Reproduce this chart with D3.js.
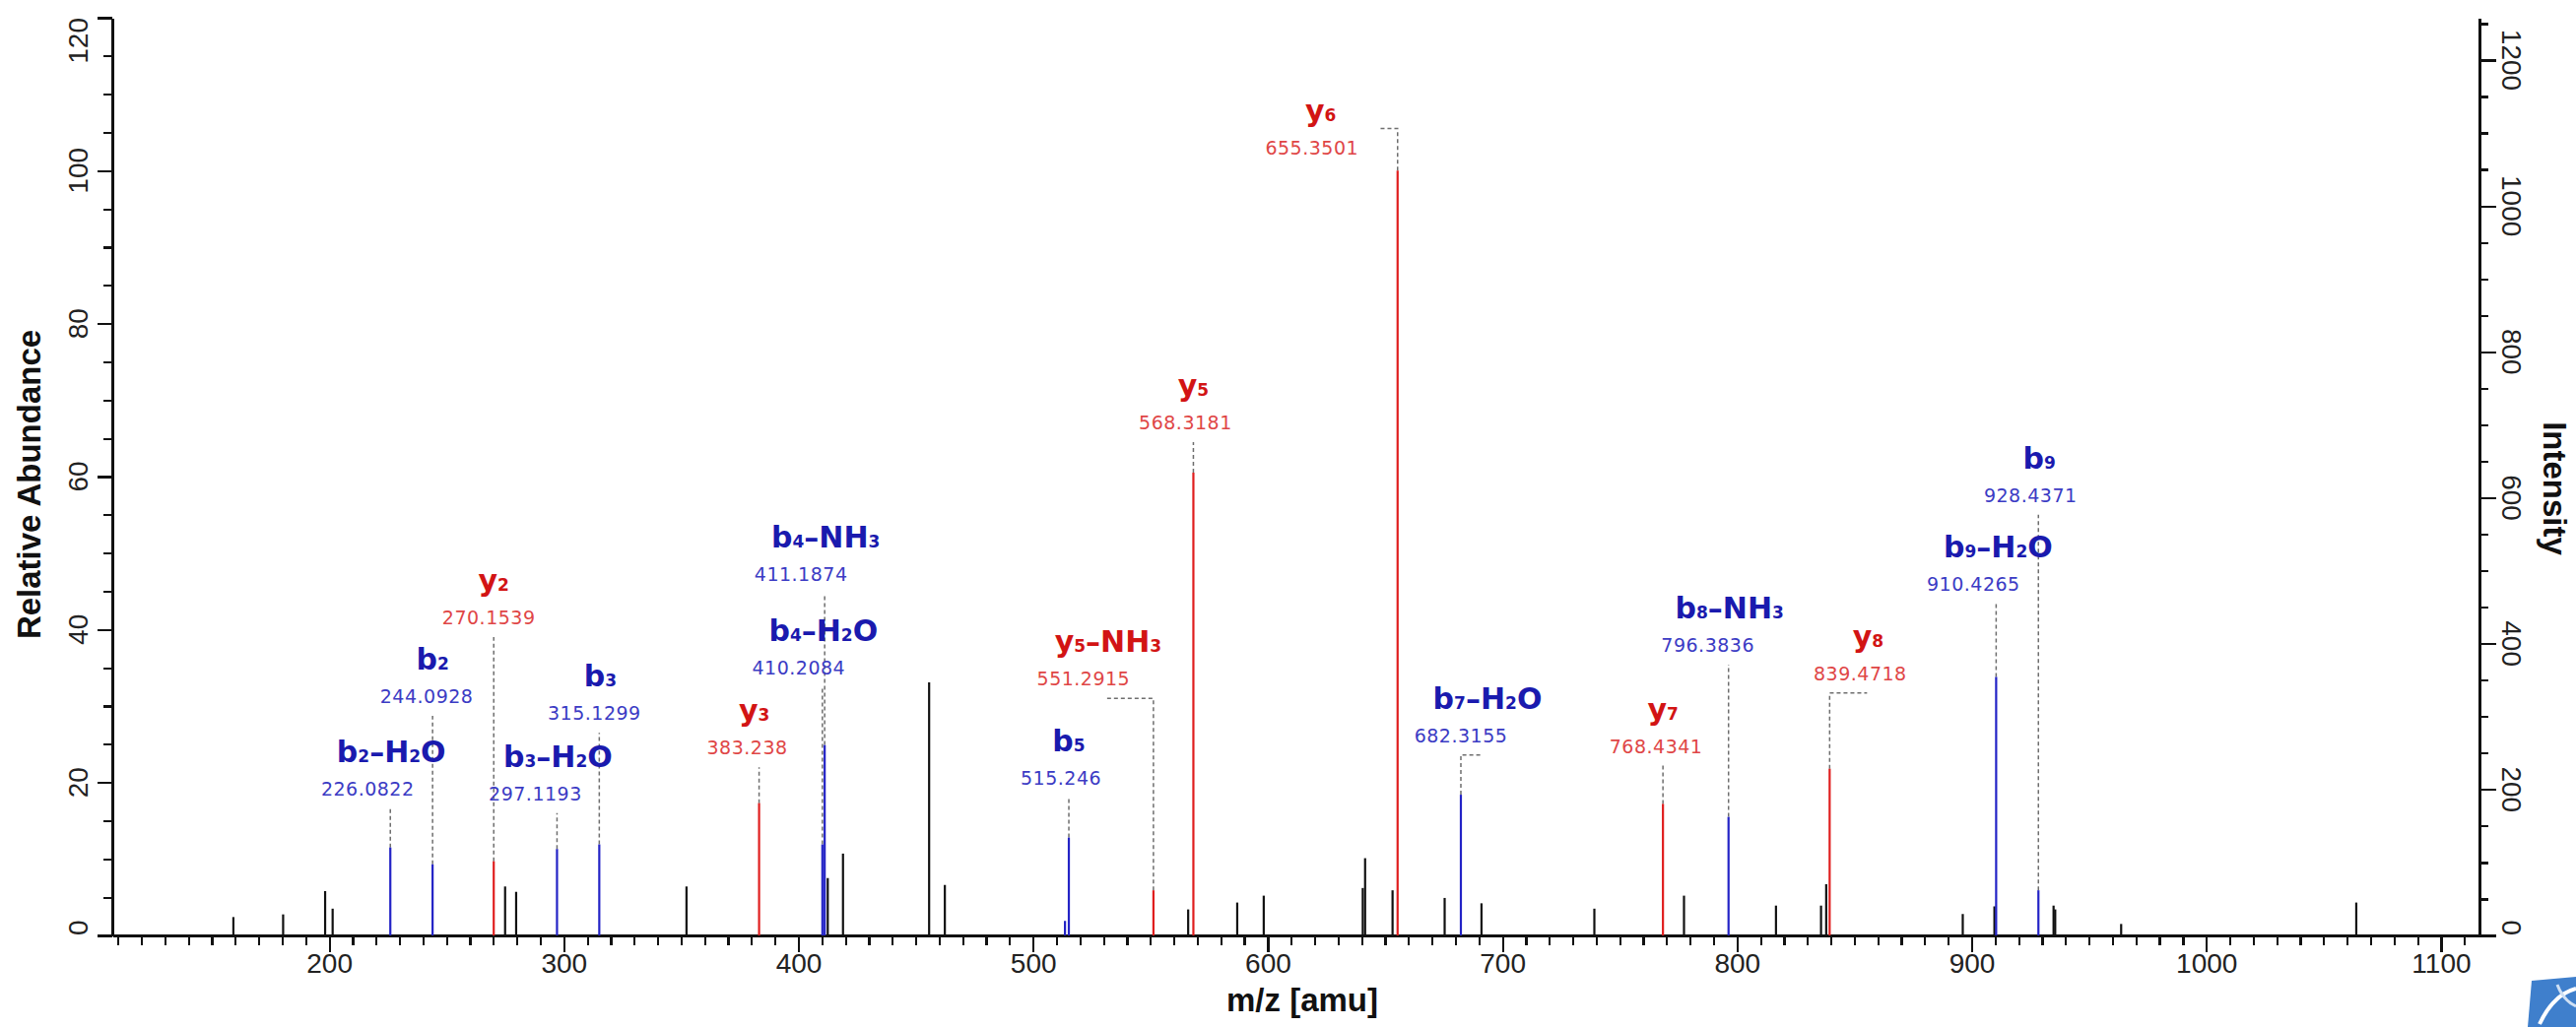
<!DOCTYPE html>
<html>
<head>
<meta charset="utf-8">
<script src="https://cdn.jsdelivr.net/npm/d3@7/dist/d3.min.js"></script>
<style>
  body { margin: 0; background: #fff; }
  .axis path, .axis line { stroke: #111; stroke-width: 2.2; shape-rendering: crispEdges; }
  .axis text { font-family: "Liberation Sans", Arial, sans-serif; font-size: 28px; fill: #222; }
  .title { font-family: "Liberation Sans", Arial, sans-serif; font-size: 33px; font-weight: bold; fill: #111; }
  .ion { font-family: "DejaVu Sans", sans-serif; font-size: 30px; font-weight: bold; }
  .mzlab { font-family: "DejaVu Sans", sans-serif; font-size: 19px; letter-spacing: 0.5px; }
</style>
</head>
<body>
<div id="chart"></div>
<script>
// spectrum peaks: m/z, relative abundance, ion series ('' = unassigned)
const peakMz = [159.2, 180.4, 198.3, 201.5, 226.0822, 244.0928, 270.1539, 275.0, 279.7,
  297.1193, 315.1299, 352.3, 383.238, 410.2084, 411.1874, 412.5, 419.0, 455.7, 462.4,
  513.6, 515.246, 551.2915, 566.1, 568.3181, 587.0, 598.3, 640.5, 641.5, 653.2, 655.3501,
  675.4, 682.3155, 691.1, 739.2, 768.4341, 777.4, 796.3836, 816.6, 835.8, 838.0, 839.4718,
  896.2, 909.7, 910.4265, 928.4371, 934.9, 935.6, 963.7, 1063.9];
const peakRel = [2.4, 2.75, 5.8, 3.5, 11.5, 9.3, 9.7, 6.4, 5.7,
  11.3, 11.9, 6.4, 17.3, 11.9, 24.9, 7.5, 10.7, 33.1, 6.6,
  1.9, 12.8, 5.9, 3.4, 60.5, 4.3, 5.2, 6.2, 10.1, 5.9, 100,
  4.9, 18.4, 4.2, 3.5, 17.2, 5.2, 15.5, 3.9, 3.9, 6.7, 21.8,
  2.8, 3.8, 33.8, 5.9, 3.9, 3.4, 1.5, 4.3];
const peakIon = ['', '', '', '', 'b', 'b', 'y', '', '',
  'b', 'b', '', 'y', 'b', 'b', '', '', '', '',
  'b', 'b', 'y', '', 'y', '', '', '', '', '', 'y',
  '', 'b', '', '', 'y', '', 'b', '', '', '', 'y',
  '', '', 'b', 'b', '', '', '', ''];

// annotated fragment ions
const annMz = [226.0822, 244.0928, 270.1539, 297.1193, 315.1299, 383.238, 410.2084, 411.1874,
  515.246, 551.2915, 568.3181, 655.3501, 682.3155, 768.4341, 796.3836, 839.4718, 910.4265, 928.4371];
const annName = ['b2-H2O', 'b2', 'y2', 'b3-H2O', 'b3', 'y3', 'b4-H2O', 'b4-NH3',
  'b5', 'y5-NH3', 'y5', 'y6', 'b7-H2O', 'y7', 'b8-NH3', 'y8', 'b9-H2O', 'b9'];
const annText = ['226.0822', '244.0928', '270.1539', '297.1193', '315.1299', '383.238', '410.2084', '411.1874',
  '515.246', '551.2915', '568.3181', '655.3501', '682.3155', '768.4341', '796.3836', '839.4718', '910.4265', '928.4371'];

// axis ticks
const xMajor = d3.range(200, 1101, 100);
const xMinor = d3.range(110, 1111, 10);
const yLeftMajor = d3.range(0, 121, 20);
const yLeftMinor = d3.range(0, 121, 5);
const yRightMajor = d3.range(0, 1201, 200);
const yRightMinor = d3.range(0, 1251, 50);

// label placement (leader top in % units, hook / offsets in px)
const annTip = [16.6, 28.7, 39.0, 16.0, 26.5, 22.0, 32.5, 44.7, 18.0, 31.0, 64.5, 105.5, 23.6, 22.2, 35.4, 31.7, 43.4, 55.0];
const annHook = [0, 0, 0, 0, 0, 0, 0, 0, 0, -47, 0, -18, 20, 0, 0, 38, 0, 0];
const annIonDx = [1, 0, 0, 1, 1, -5, 1, 1, 0, -46, 0, -78, 27, 0, 1, 39, 2, 1];
const annMzDx = [-23, -6, -5, -22, -5, -12, -24, -24, -8, -71, -8, -87, 0, -7, -21, 31, -23, -8];
const annDy = [0, 0, 0, 0, 0, 0, 0, 0, 0, 0, 0, 39, 0, 0, 0, 0, 0, 0];

const W = 2615, H = 1043;
const colors = { b: '#2323c6', y: '#e01e1e', '': '#111' };
const ionColors = { b: '#1a1aae', y: '#d21414' };
const mzColors = { b: '#3b3bc4', y: '#df4646' };

const svg = d3.select('#chart').append('svg')
  .attr('width', W).attr('height', H);

const x = d3.scaleLinear().domain([107.6, 1116.4]).range([114, 2517]);
const yL = d3.scaleLinear().domain([0, 120]).range([950, 18]);
const yR = d3.scaleLinear().domain([0, 1258]).range([950, 18]);

//x axis
svg.append('g').attr('class', 'axis').attr('transform', 'translate(0,950)')
  .call(d3.axisBottom(x).tickValues(xMinor).tickSize(10).tickSizeOuter(0).tickFormat(''));
const xa = svg.append('g').attr('class', 'axis').attr('transform', 'translate(0,950)')
  .call(d3.axisBottom(x).tickValues(xMajor).tickSize(17).tickSizeOuter(0).tickFormat(d3.format('d')));
xa.selectAll('text').attr('y', 38).attr('dy', null);

//left axis
svg.append('g').attr('class', 'axis').attr('transform', 'translate(114,0)')
  .call(d3.axisLeft(yL).tickValues(yLeftMinor).tickSize(9).tickSizeOuter(0).tickFormat(''));
svg.append('g').attr('class', 'axis').attr('transform', 'translate(114,0)')
  .call(d3.axisLeft(yL).tickValues(yLeftMajor).tickSize(15).tickSizeOuter(0).tickFormat(''));

//right axis
svg.append('g').attr('class', 'axis').attr('transform', 'translate(2517,0)')
  .call(d3.axisRight(yR).tickValues(yRightMinor).tickSize(9).tickSizeOuter(0).tickFormat(''));
svg.append('g').attr('class', 'axis').attr('transform', 'translate(2517,0)')
  .call(d3.axisRight(yR).tickValues(yRightMajor).tickSize(17).tickSizeOuter(0).tickFormat(''));

// rotated tick labels, kept inside the axis extent
function sideLabels(values, scale, xPos, angle) {
  const g = svg.append('g').attr('class', 'axis');
  g.selectAll('text')
    .data(values)
    .enter()
    .append('text')
    .text(function (d) { return d; })
    .attr('text-anchor', 'middle')
    .attr('transform', function (d) {
      let half = this.getComputedTextLength() / 2;
      let c = Math.max(18 + half, Math.min(950 - half, scale(d)));
      return 'translate(' + xPos + ',' + c + ') rotate(' + angle + ')';
    });
}
sideLabels(yLeftMajor, yL, 89, -90);
sideLabels(yRightMajor, yR, 2540, 90);

// axis titles
svg.append('text').attr('class', 'title').attr('text-anchor', 'middle')
  .attr('x', 1322).attr('y', 1027).text('m/z [amu]');
svg.append('text').attr('class', 'title').attr('text-anchor', 'middle')
  .attr('transform', 'translate(41,492) rotate(-90)').text('Relative Abundance');
svg.append('text').attr('class', 'title').attr('text-anchor', 'middle')
  .attr('transform', 'translate(2582,496) rotate(90)').text('Intensity');

// annotations
const ann = annMz.map(function (m, i) {
  return {
    mz: m, name: annName[i], text: annText[i], tip: annTip[i], hook: annHook[i],
    ionDx: annIonDx[i], mzDx: annMzDx[i], dy: annDy[i],
    rel: peakRel[peakMz.indexOf(m)], ion: annName[i][0]
  };
});

svg.append('g').selectAll('path')
  .data(ann)
  .enter()
  .append('path')
  .attr('d', function (d) {
    let px = x(d.mz);
    return 'M' + px + ',' + yL(d.rel) + 'V' + yL(d.tip) + 'H' + (px + d.hook);
  })
  .attr('fill', 'none')
  .attr('stroke', '#6e6e6e')
  .attr('stroke-width', 1.5)
  .attr('stroke-dasharray', '4,3');

// peaks
svg.append('g').selectAll('line')
  .data(peakMz)
  .enter()
  .append('line')
  .attr('x1', function (d) { return x(d); })
  .attr('x2', function (d) { return x(d); })
  .attr('y1', yL(0))
  .attr('y2', function (d, i) { return yL(peakRel[i]); })
  .attr('stroke', function (d, i) { return colors[peakIon[i]]; })
  .attr('stroke-width', 2.2);

const labels = svg.append('g').selectAll('g')
  .data(ann)
  .enter()
  .append('g');

labels.append('text')
  .attr('class', 'mzlab')
  .attr('text-anchor', 'middle')
  .attr('x', function (d) { return x(d.mz) + d.mzDx; })
  .attr('y', function (d) { return yL(d.tip) - 13 + d.dy; })
  .attr('fill', function (d) { return mzColors[d.ion]; })
  .text(function (d) { return d.text; });

labels.append('text')
  .attr('class', 'ion')
  .attr('text-anchor', 'middle')
  .attr('x', function (d) { return x(d.mz) + d.ionDx; })
  .attr('y', function (d) { return yL(d.tip) - 47 + d.dy; })
  .attr('fill', function (d) { return ionColors[d.ion]; })
  .selectAll('tspan')
  .data(function (d) { return d.name.replace('-', '\u2013').match(/\d+|[^\d]+/g); })
  .enter()
  .append('tspan')
  .attr('font-size', function (t) { return /\d/.test(t) ? '17px' : null; })
  .text(function (t) { return t; });

// corner logo (cropped at the edge)
const logo = svg.append('g');
logo.append('path')
  .attr('d', 'M2570,996 L2615,992 L2615,1043 L2566,1043 Z')
  .attr('fill', '#3f7fcc');
logo.append('path')
  .attr('d', 'M2578,1040 Q2592,1010 2615,1004')
  .attr('fill', 'none').attr('stroke', '#fff').attr('stroke-width', 4);
logo.append('path')
  .attr('d', 'M2596,1000 Q2602,1016 2615,1022')
  .attr('fill', 'none').attr('stroke', '#cfe0f4').attr('stroke-width', 3);
</script>
</body>
</html>
